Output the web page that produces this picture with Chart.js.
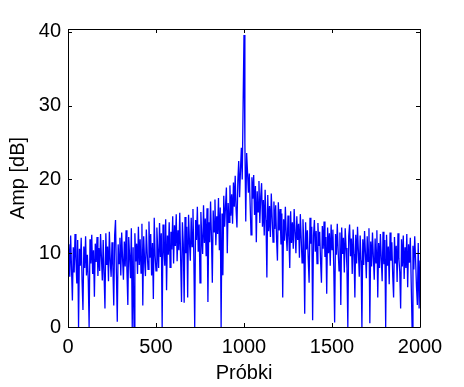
<!DOCTYPE html>
<html>
<head>
<meta charset="utf-8">
<script src="https://cdn.jsdelivr.net/npm/chart.js@4"></script>
<style>
html,body{margin:0;padding:0;background:#fff;}
#wrap{width:464px;height:387px;}
</style>
</head>
<body>
<div id="wrap"><canvas id="c" width="464" height="387"></canvas></div>
<script>
// Sample spacing of the read-off points (Próbki)
const sampleStep = 5;
const xTicks = [0, 500, 1000, 1500, 2000];
const yTicks = [0, 10, 20, 30, 40];
const xTitle = 'Próbki';
const yTitle = 'Amp [dB]';

// Amplitude [dB], samples 0..995
const ampRising = [
  8.5, 11.2, 6.8, 12.4, 7.9, 3.6, 10.8, 7.4, 12.6, 9.2, 5.9, 11.8, 0, 10.6, 8.3, 12.1, 6.2, 2.3, 10.9, 8.0,
  12.3, 7.0, 9.8, 6.5, 0, 11.9, 8.6, 12.5, 7.2, 10.4, 4.1, 11.3, 8.8, 12.2, 6.9, 10.7, 7.6, 12.6, 9.4, 6.3,
  11.8, 7.1, 2.5, 12.7, 8.4, 10.9, 6.2, 12.9, 9.0, 6.8, 11.5, 8.1, 2.9, 12.4, 14.5, 7.3, 0.7, 11.2, 8.6, 12.1,
  7.0, 12.8, 9.3, 6.4, 11.6, 8.2, 13.1, 7.5, 3.0, 12.2, 9.6, 6.6, 13.4, 0, 10.8, 0, 12.7, 8.9, 11.3, 7.2,
  13.6, 8.4, 11.9, 7.3, 14.0, 2.9, 12.3, 9.1, 6.9, 13.2, 10.0, 7.8, 14.3, 9.4, 12.6, 7.0, 11.4, 3.8, 14.8, 9.7,
  7.6, 13.5, 10.2, 8.0, 14.1, 9.5, 12.7, 0, 13.9, 10.6, 8.3, 14.6, 5.0, 12.4, 9.8, 14.2, 8.1, 12.9, 10.5, 15.0,
  8.6, 13.8, 11.0, 15.3, 8.9, 13.1, 10.4, 15.5, 9.2, 3.4, 14.2, 11.3, 3.3, 14.9, 10.0, 13.6, 4.0, 15.2, 11.6, 9.0,
  14.8, 10.9, 16.0, 9.4, 0, 14.5, 11.8, 16.3, 10.2, 13.9, 6.0, 15.6, 12.0, 9.9, 16.5, 11.4, 14.7, 9.6, 16.1, 3.4,
  14.2, 11.5, 17.0, 12.3, 6.0, 15.8, 12.9, 17.3, 11.1, 15.0, 12.6, 17.5, 10.4, 16.2, 0, 15.4, 7.0, 17.8, 13.6, 16.4,
  18.9, 10.0, 16.8, 14.2, 19.2, 15.1, 18.0, 14.0, 19.6, 16.3, 20.5, 15.9, 13.5, 19.8, 22.5, 17.6, 21.3, 24.3, 20.0, 30.2
];
// Amplitude [dB], sample 1000 (main peak)
const ampPeak = [39.6];
// Amplitude [dB], samples 1005..2000
const ampFalling = [
  25.0, 14.3, 23.6, 21.0, 18.2, 20.8, 16.5, 12.5, 20.3, 17.4, 20.6, 15.2, 19.1, 11.5, 18.4, 15.6, 19.8, 14.1, 17.7,
  19.5, 13.6, 17.2, 12.4, 18.6, 14.5, 6.7, 17.9, 13.0, 16.4, 12.2, 18.1, 14.8, 11.5, 17.0, 13.3, 16.5, 12.0, 9.0, 16.9,
  13.1, 16.0, 11.2, 15.4, 4.0, 14.6, 11.7, 16.3, 12.5, 10.3, 15.1, 12.2, 8.0, 15.7, 11.4, 14.2, 10.6, 16.0, 12.8, 10.0,
  15.0, 11.8, 14.0, 9.4, 15.3, 12.0, 8.7, 14.6, 11.1, 1.8, 14.2, 10.5, 13.1, 9.2, 6.0, 14.8, 11.3, 13.6, 0.9, 12.4,
  14.5, 10.2, 13.0, 8.6, 14.1, 11.0, 12.9, 9.0, 6.0, 13.7, 10.6, 14.3, 9.5, 12.2, 4.5, 13.5, 10.0, 12.7, 8.3, 13.9,
  10.5, 13.2, 8.1, 0.6, 12.6, 9.8, 14.0, 10.3, 7.6, 12.8, 3.0, 13.5, 9.9, 12.1, 7.4, 13.4, 10.7, 8.0, 0, 12.3,
  13.9, 9.6, 12.0, 7.2, 13.2, 9.9, 4.0, 12.5, 8.6, 13.6, 10.2, 6.8, 12.4, 9.0, 0, 11.9, 8.4, 13.0, 10.0, 6.6,
  12.3, 8.9, 13.4, 0.5, 11.6, 8.2, 12.8, 9.5, 6.4, 12.0, 8.7, 13.1, 4.0, 11.4, 8.0, 12.6, 9.2, 6.2, 12.9, 8.5,
  11.8, 0, 12.5, 8.3, 10.9, 5.8, 12.8, 9.0, 11.5, 7.0, 4.0, 12.2, 8.6, 11.0, 6.1, 12.7, 9.3, 7.5, 2.5, 11.9,
  8.2, 12.4, 6.5, 10.8, 8.0, 12.6, 5.4, 11.2, 8.7, 12.1, 6.0, 0, 11.0, 7.8, 12.3, 9.1, 5.5, 3.0, 11.4, 2.5,
  9.0
];

const amps = ampRising.concat(ampPeak, ampFalling);
const points = amps.map((v, i) => ({x: i * sampleStep, y: v}));

const FONT = {family: '"Liberation Sans", Arial, sans-serif', size: 20};

const boxPlugin = {
  id: 'matlabBox',
  afterDatasetsDraw(chart) {
    const {ctx, chartArea: a, scales: {x, y}} = chart;
    ctx.save();
    ctx.strokeStyle = '#000';
    ctx.lineWidth = 1;
    ctx.beginPath();
    ctx.rect(Math.round(a.left) + 0.5, Math.round(a.top) + 0.5,
             Math.round(a.right - a.left), Math.round(a.bottom - a.top));
    const L = 4;
    xTicks.forEach(t => {
      const px = Math.round(x.getPixelForValue(t)) + 0.5;
      ctx.moveTo(px, a.bottom); ctx.lineTo(px, a.bottom - L);
      ctx.moveTo(px, a.top); ctx.lineTo(px, a.top + L);
    });
    yTicks.forEach(t => {
      const py = Math.round(y.getPixelForValue(t)) + 0.5;
      ctx.moveTo(a.left, py); ctx.lineTo(a.left + L, py);
      ctx.moveTo(a.right, py); ctx.lineTo(a.right - L, py);
    });
    ctx.stroke();
    ctx.restore();
  }
};

new Chart(document.getElementById('c'), {
  type: 'line',
  data: {
    datasets: [{
      data: points,
      borderColor: '#0000FF',
      borderWidth: 1.3,
      pointRadius: 0,
      tension: 0,
      fill: false
    }]
  },
  options: {
    responsive: false,
    animation: false,
    events: [],
    layout: {padding: {left: 0, top: 29, right: 44, bottom: 0}},
    plugins: {legend: {display: false}, tooltip: {enabled: false}},
    scales: {
      x: {
        type: 'linear', min: 0, max: 2000,
        afterBuildTicks: s => { s.ticks = xTicks.map(v => ({value: v})); },
        afterFit: s => { s.height = 60; },
        grid: {display: false, drawTicks: false},
        border: {display: false},
        ticks: {color: '#000', font: FONT, padding: 8, maxRotation: 0, autoSkip: false,
                callback: v => String(v)},
        title: {display: true, text: xTitle, color: '#000', font: FONT, padding: {top: 0, bottom: 2}}
      },
      y: {
        type: 'linear', min: 0, max: 40.4,
        afterBuildTicks: s => { s.ticks = yTicks.map(v => ({value: v})); },
        afterFit: s => { s.width = 68; },
        grid: {display: false, drawTicks: false},
        border: {display: false},
        ticks: {color: '#000', font: FONT, padding: 7, autoSkip: false,
                callback: v => String(v)},
        title: {display: true, text: yTitle, color: '#000', font: FONT, padding: {top: 6, bottom: 0}}
      }
    }
  },
  plugins: [boxPlugin]
});
</script>
</body>
</html>
